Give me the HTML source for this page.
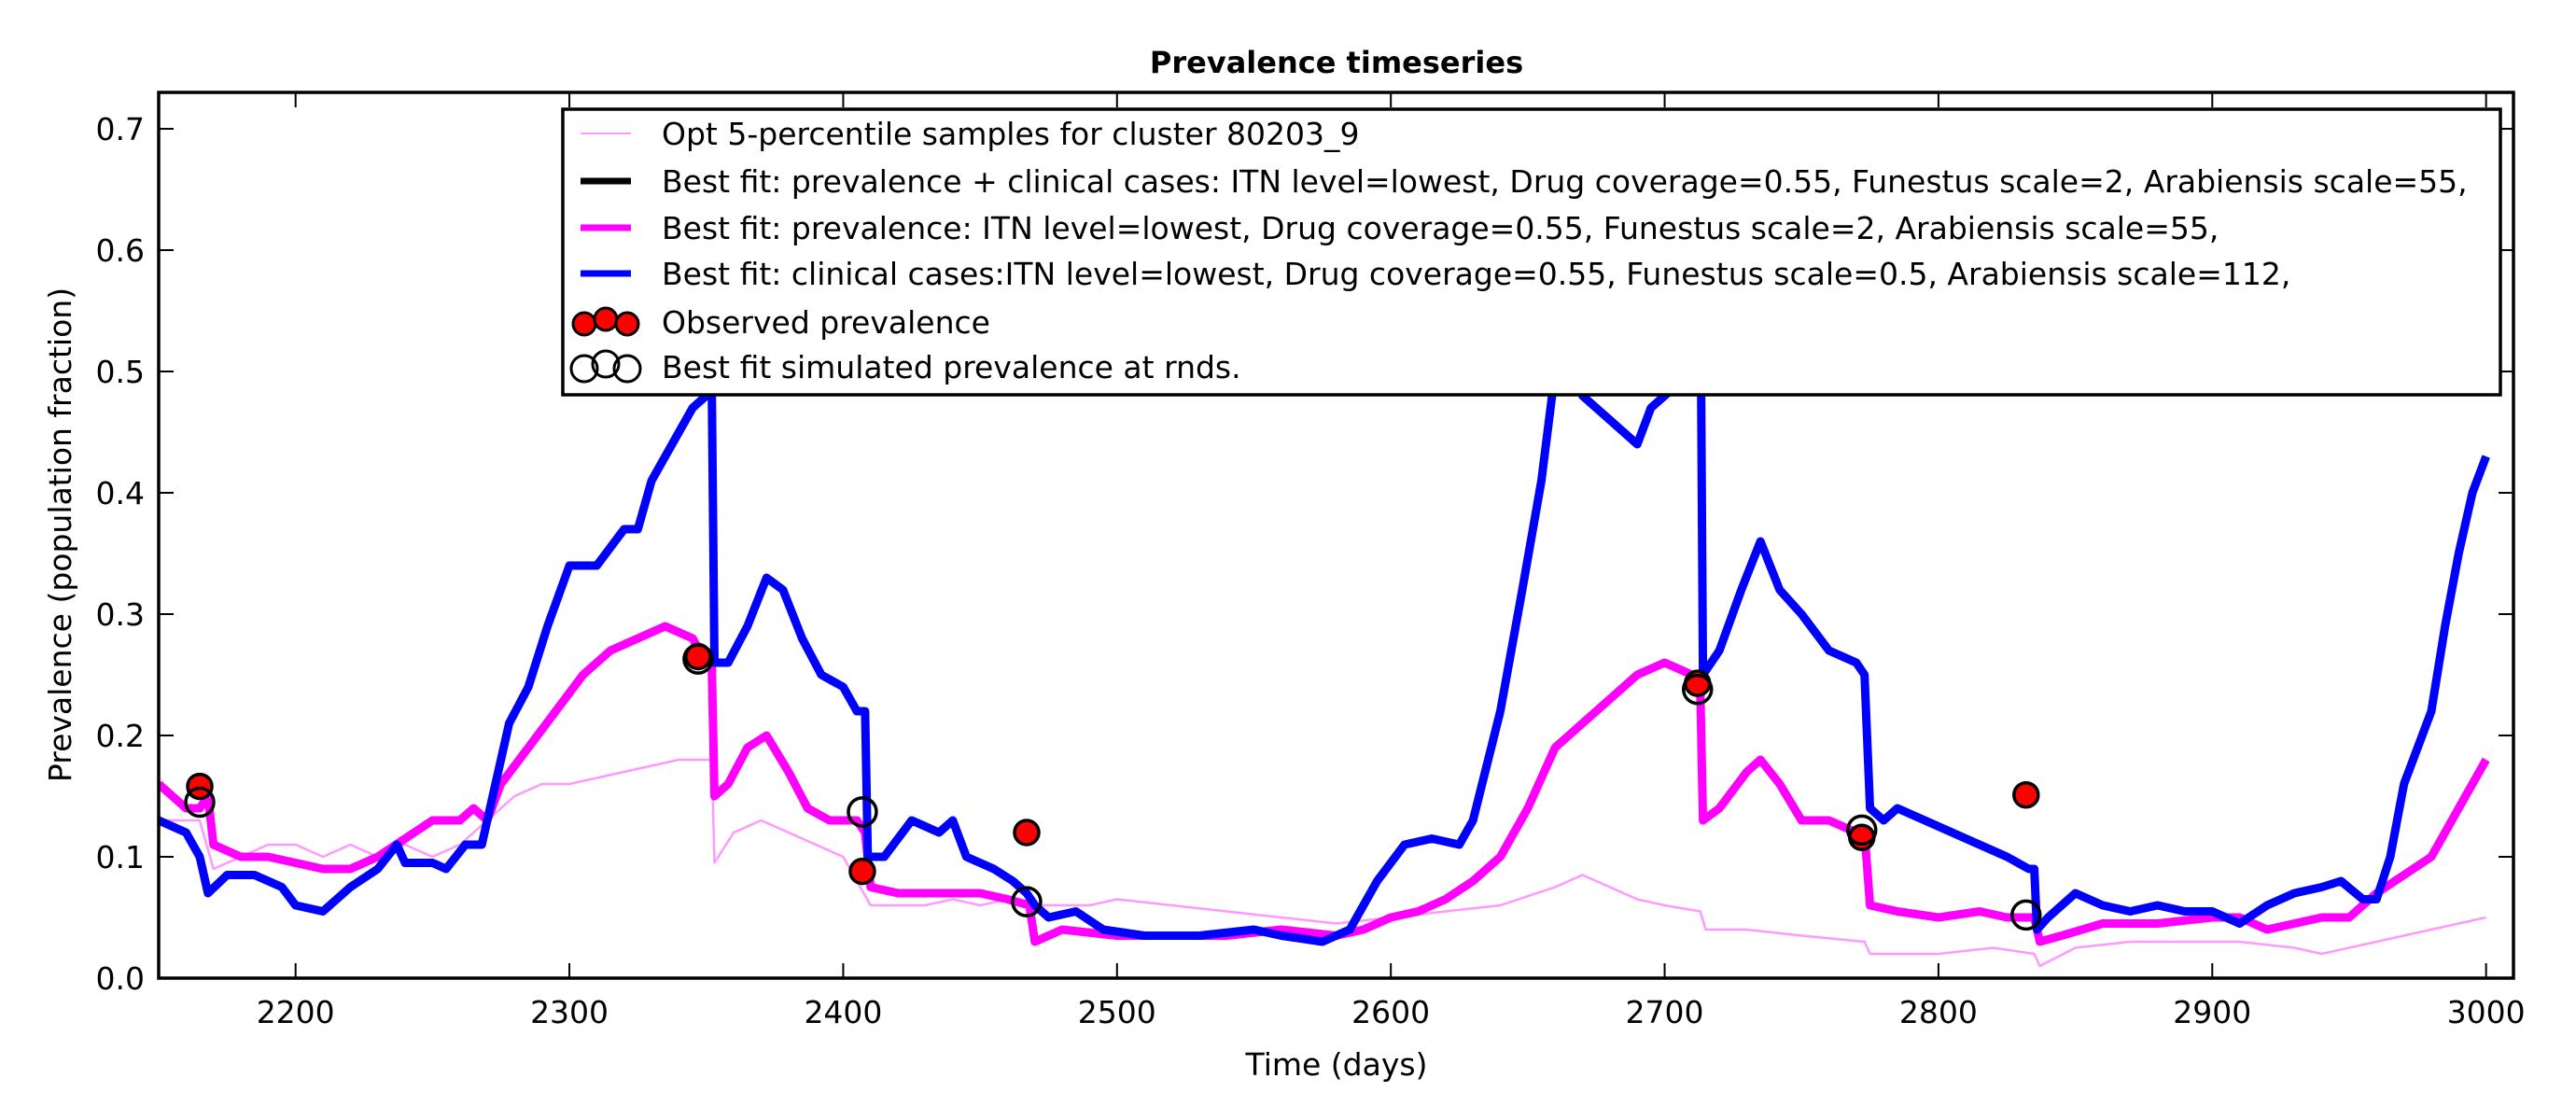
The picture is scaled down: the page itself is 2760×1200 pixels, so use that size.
<!DOCTYPE html>
<html><head><meta charset="utf-8"><style>
html,body{margin:0;padding:0;background:#fff}
svg{display:block;font-family:"DejaVu Sans","Liberation Sans",sans-serif}
</style></head><body>
<svg id="chart" width="2760" height="1200" viewBox="0 0 2760 1200">
<rect width="2760" height="1200" fill="#fff"/>
<text x="1432" y="78" text-anchor="middle" font-size="32" font-weight="bold">Prevalence timeseries</text>
<g id="plot"></g>
<text x="1432" y="1152" text-anchor="middle" font-size="33">Time (days)</text>
<text transform="translate(76,573) rotate(-90)" text-anchor="middle" font-size="33">Prevalence (population fraction)</text>
</svg>
<script>
const xTicks=[2200,2300,2400,2500,2600,2700,2800,2900,3000];
const yTicks=[0.0,0.1,0.2,0.3,0.4,0.5,0.6,0.7];
const yTickLabels=["0.0","0.1","0.2","0.3","0.4","0.5","0.6","0.7"];
const blueX=[2150,2160,2165,2168,2175,2185,2195,2200,2210,2220,2230,2237,2240,2250,2255,2262,2268,2272,2278,2285,2292,2300,2310,2320,2325,2330,2340,2345,2350,2352,2353,2358,2365,2372,2378,2385,2392,2400,2405,2408,2409,2415,2425,2435,2440,2445,2455,2462,2467,2470,2475,2485,2495,2510,2530,2550,2560,2575,2585,2595,2605,2615,2625,2630,2640,2648,2655,2660,2663,2667,2670,2680,2690,2695,2705,2710,2713,2714,2720,2728,2735,2742,2750,2760,2770,2773,2775,2780,2785,2795,2805,2815,2825,2833,2835,2836,2840,2850,2860,2870,2880,2890,2900,2910,2920,2930,2940,2947,2955,2960,2965,2970,2980,2985,2990,2995,3000];
const blueY=[0.13,0.12,0.10,0.07,0.085,0.085,0.075,0.06,0.055,0.075,0.09,0.11,0.095,0.095,0.09,0.11,0.11,0.15,0.21,0.24,0.29,0.34,0.34,0.37,0.37,0.41,0.45,0.47,0.48,0.49,0.26,0.26,0.29,0.33,0.32,0.28,0.25,0.24,0.22,0.22,0.10,0.10,0.13,0.12,0.13,0.10,0.09,0.08,0.07,0.06,0.05,0.055,0.04,0.035,0.035,0.04,0.035,0.03,0.04,0.08,0.11,0.115,0.11,0.13,0.22,0.32,0.41,0.50,0.55,0.6,0.48,0.46,0.44,0.47,0.49,0.55,0.6,0.25,0.27,0.32,0.36,0.32,0.30,0.27,0.26,0.25,0.14,0.13,0.14,0.13,0.12,0.11,0.10,0.09,0.09,0.04,0.05,0.07,0.06,0.055,0.06,0.055,0.055,0.045,0.06,0.07,0.075,0.08,0.065,0.065,0.10,0.16,0.22,0.29,0.35,0.40,0.43];
const magX=[2150,2160,2165,2168,2170,2180,2190,2200,2210,2220,2230,2240,2250,2260,2265,2270,2275,2285,2295,2305,2315,2325,2335,2345,2350,2352,2353,2358,2365,2372,2380,2387,2395,2405,2408,2410,2420,2440,2450,2460,2468,2470,2480,2500,2520,2540,2560,2580,2590,2600,2610,2620,2630,2640,2650,2660,2670,2680,2690,2700,2710,2713,2714,2720,2730,2735,2742,2750,2760,2770,2773,2775,2785,2800,2815,2825,2835,2837,2845,2860,2880,2900,2910,2920,2930,2940,2950,2955,2960,2970,2980,2990,3000];
const magY=[0.16,0.14,0.14,0.15,0.11,0.10,0.10,0.095,0.09,0.09,0.10,0.115,0.13,0.13,0.14,0.13,0.16,0.19,0.22,0.25,0.27,0.28,0.29,0.28,0.26,0.26,0.15,0.16,0.19,0.20,0.17,0.14,0.13,0.13,0.12,0.075,0.07,0.07,0.07,0.065,0.06,0.03,0.04,0.035,0.035,0.035,0.04,0.035,0.04,0.05,0.055,0.065,0.08,0.10,0.14,0.19,0.21,0.23,0.25,0.26,0.25,0.24,0.13,0.14,0.17,0.18,0.16,0.13,0.13,0.12,0.12,0.06,0.055,0.05,0.055,0.05,0.05,0.03,0.035,0.045,0.045,0.05,0.05,0.04,0.045,0.05,0.05,0.06,0.07,0.085,0.10,0.14,0.18];
const pinkX=[2150,2165,2170,2180,2190,2200,2210,2220,2230,2240,2250,2260,2270,2280,2290,2300,2310,2320,2330,2340,2350,2352,2353,2360,2370,2380,2390,2400,2410,2420,2430,2440,2450,2460,2470,2480,2490,2500,2520,2540,2560,2580,2600,2620,2640,2660,2670,2680,2690,2700,2713,2715,2730,2750,2773,2775,2800,2820,2835,2837,2850,2870,2890,2910,2930,2940,2960,2980,3000];
const pinkY=[0.13,0.13,0.09,0.10,0.11,0.11,0.10,0.11,0.10,0.11,0.10,0.11,0.13,0.15,0.16,0.16,0.165,0.17,0.175,0.18,0.18,0.18,0.095,0.12,0.13,0.12,0.11,0.10,0.06,0.06,0.06,0.065,0.06,0.065,0.06,0.06,0.06,0.065,0.06,0.055,0.05,0.045,0.05,0.055,0.06,0.075,0.085,0.075,0.065,0.06,0.055,0.04,0.04,0.035,0.03,0.02,0.02,0.025,0.02,0.01,0.025,0.03,0.03,0.03,0.025,0.02,0.03,0.04,0.05];
const obsX=[2165,2347,2407,2467,2712,2772,2832];
const obsY=[0.158,0.265,0.088,0.12,0.243,0.116,0.151];
const simX=[2165,2347,2407,2467,2712,2772,2832];
const simY=[0.145,0.263,0.137,0.063,0.238,0.122,0.052];

const L=170,R=2693,T=99,B=1048,X0=2150,X1=3010,Y0=0,Y1=0.73;
function sx(v){return L+(v-X0)/(X1-X0)*(R-L);}
function sy(v){return B-(v-Y0)/(Y1-Y0)*(B-T);}
const NS="http://www.w3.org/2000/svg";
const plot=document.getElementById('plot');
function mk(tag,attrs,parent){const e=document.createElementNS(NS,tag);for(const k in attrs)e.setAttribute(k,attrs[k]);(parent||plot).appendChild(e);return e;}
const defs=mk('defs',{});const cp=mk('clipPath',{id:'clip'},defs);mk('rect',{x:L,y:T,width:R-L,height:B-T},cp);
const g=mk('g',{'clip-path':'url(#clip)'});


function line(xs,ys,color,w,name){const d=xs.map((x,i)=>(i?'L':'M')+sx(x).toFixed(1)+','+sy(ys[i]).toFixed(1)).join('');const p=mk('path',{d:d,fill:'none',stroke:color,'stroke-width':w,'stroke-linejoin':'round'},g);

}
line(pinkX,pinkY,'#ff99ff',2.5,'samples-line');
line(magX,magY,'#ff00ff',9,'prevalence-fit-line');
line(blueX,blueY,'#0000ff',9,'clinical-fit-line');
obsX.forEach((x,i)=>{const c=mk('circle',{cx:sx(x),cy:sy(obsY[i]),r:13,fill:'#ff0000',stroke:'#000','stroke-width':3.5},g);

});
simX.forEach((x,i)=>{const c=mk('circle',{cx:sx(x),cy:sy(simY[i]),r:15,fill:'none',stroke:'#000','stroke-width':3.5},g);

});
xTicks.forEach(t=>{const x=sx(t);
const a=mk('line',{x1:x,y1:B,x2:x,y2:B-16,stroke:'#000','stroke-width':2});


mk('line',{x1:x,y1:T,x2:x,y2:T+16,stroke:'#000','stroke-width':2});
const tx=mk('text',{x:x,y:B+48,'text-anchor':'middle','font-size':33});tx.textContent=t;

});
yTicks.forEach((t,i)=>{const y=sy(t);
const a=mk('line',{x1:L,y1:y,x2:L+16,y2:y,stroke:'#000','stroke-width':2});


mk('line',{x1:R,y1:y,x2:R-16,y2:y,stroke:'#000','stroke-width':2});
const tx=mk('text',{x:L-15,y:y+12,'text-anchor':'end','font-size':33});tx.textContent=yTickLabels[i];

});
const fr=mk('rect',{x:L,y:T,width:R-L,height:B-T,fill:'none',stroke:'#000','stroke-width':3.5});


const lg=mk('g',{});


mk('rect',{x:603,y:117,width:2076,height:306,fill:'#fff',stroke:'#000','stroke-width':3.5},lg);
const rows=[
 ['Opt 5-percentile samples for cluster 80203_9','line','#ff99ff',2],
 ['Best fit: prevalence + clinical cases: ITN level=lowest, Drug coverage=0.55, Funestus scale=2, Arabiensis scale=55,','line','#000',7],
 ['Best fit: prevalence: ITN level=lowest, Drug coverage=0.55, Funestus scale=2, Arabiensis scale=55,','line','#ff00ff',7],
 ['Best fit: clinical cases:ITN level=lowest, Drug coverage=0.55, Funestus scale=0.5, Arabiensis scale=112,','line','#0000ff',7],
 ['Observed prevalence','obs'],
 ['Best fit simulated prevalence at rnds.','sim']];
const rowY=[143,194,244,293,345,393];
rows.forEach((r,i)=>{const y=rowY[i];
const e=mk('g',{},lg);


if(r[1]==='line')mk('line',{x1:622,y1:y,x2:676,y2:y,stroke:r[2],'stroke-width':r[3]},e);
else [626,649,672].forEach((cx,j)=>{const yy=y+(j===1?-3:2);mk('circle',r[1]==='obs'?{cx:cx,cy:yy,r:12,fill:'#ff0000',stroke:'#000','stroke-width':3}:{cx:cx,cy:yy,r:14,fill:'none',stroke:'#000','stroke-width':3},e);});
const t=mk('text',{x:709,y:y+12,'font-size':33},e);t.textContent=r[0];});
</script>
</body></html>
